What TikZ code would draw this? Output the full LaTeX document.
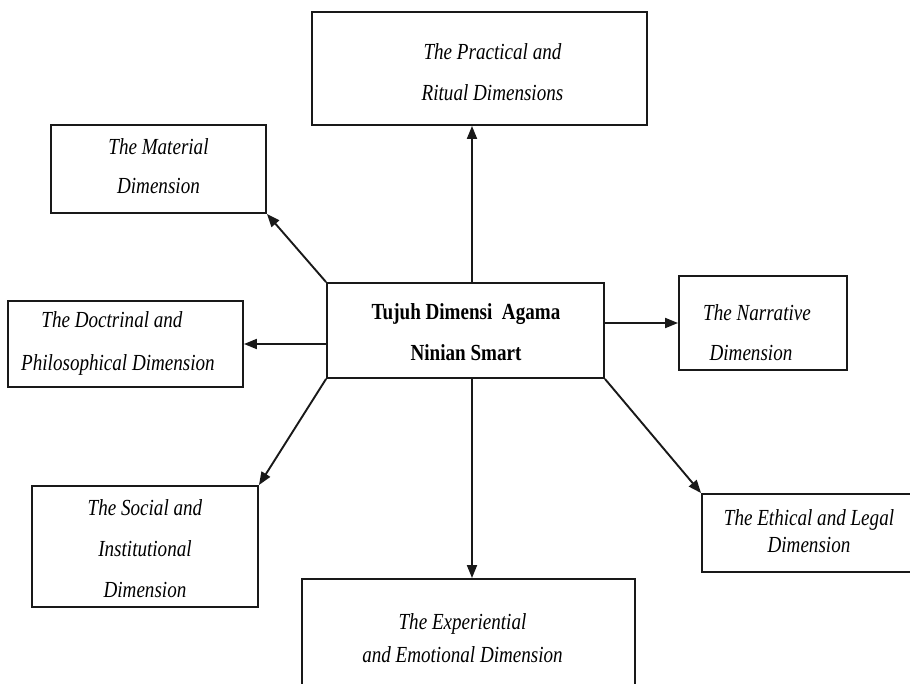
\documentclass[tikz,border=0pt]{standalone}
\usepackage{fontspec}
\setmainfont[FakeStretch=0.83]{Liberation Serif}
\usetikzlibrary{arrows.meta}
\tikzset{
  dimbox/.style={draw=black!90, line width=1.9pt, minimum width=#1, inner sep=0pt},
  dimtext/.style={align=center, inner sep=0pt, font=\fontsize{23}{#1}\selectfont\itshape},
  hubtext/.style={align=center, inner sep=0pt, font=\fontsize{23}{41}\selectfont\bfseries},
  conn/.style={draw=black!90, line width=1.9pt, -{Triangle[length=13pt,width=10pt]}}
}
\begin{document}
\begin{tikzpicture}[x=1pt,y=-1pt]
\useasboundingbox (0,0) rectangle (910,683);
% boxes
\node[dimbox=277pt, minimum height=95pt] (hub) at (465.5,330.5) {};
\node[dimbox=335pt, minimum height=113pt] (prac) at (479.5,68.5) {};
\node[dimbox=215pt, minimum height=88pt] (mat) at (158.5,169) {};
\node[dimbox=235pt, minimum height=86pt] (doc) at (125.5,344) {};
\node[dimbox=168pt, minimum height=94pt] (nar) at (763,323) {};
\node[dimbox=213pt, minimum height=78pt] (eth) at (808.5,533) {};
\node[dimbox=226pt, minimum height=121pt] (soc) at (145,546.5) {};
\node[dimbox=333pt, minimum height=130pt] (exp) at (468.5,644) {};
% texts
\node[hubtext] (hubT) at (466,332.5) {Tujuh Dimensi\ \ Agama\\Ninian Smart};
\node[dimtext=41] (pracT) at (492.5,72.5) {The Practical and\\Ritual Dimensions};
\node[dimtext=39] (matT) at (158.5,166.5) {The Material\\Dimension};
\node[dimtext=43] (docT) at (118,343.5) {\hspace*{-12pt}The Doctrinal and\\Philosophical Dimension};
\node[dimtext=40] (narT) at (757,333) {The Narrative\\\hspace*{-12pt}Dimension};
\node[dimtext=27] (ethT) at (809,531.5) {The Ethical and Legal\\Dimension};
\node[dimtext=41] (socT) at (145,549) {The Social and\\Institutional\\Dimension};
\node[dimtext=33] (expT) at (462.5,638.5) {The Experiential\\and Emotional Dimension};
% connectors
\draw[conn] ([xshift=6.5pt]hub.north) -- ([xshift=6.5pt]hub.north |- prac.south);
\draw[conn] (hub.north west) -- (mat.south east);
\draw[conn] (hub.west |- doc.east) -- (doc.east);
\draw[conn] (hub.east |- nar.west) -- (nar.west);
\draw[conn] (hub.south west) -- (soc.north east);
\draw[conn] (hub.south east) -- (eth.north west);
\draw[conn] ([xshift=6.5pt]hub.south) -- ([xshift=6.5pt]hub.south |- exp.north);
\end{tikzpicture}
\end{document}
